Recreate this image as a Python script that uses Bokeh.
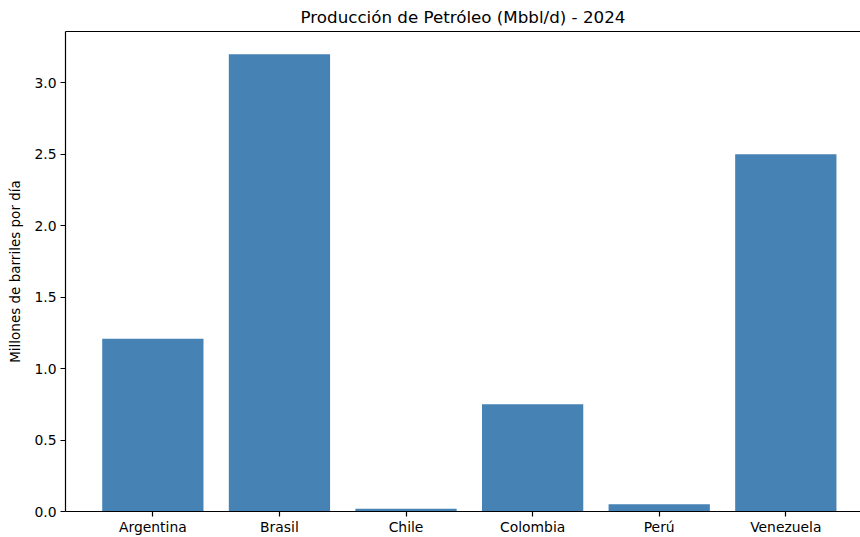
from bokeh.plotting import figure
from bokeh.models import Range1d, FixedTicker, NumeralTickFormatter, LinearAxis
from bokeh.embed import file_html
from bokeh.resources import INLINE

# Data
countries = ["Argentina", "Brasil", "Chile", "Colombia", "Perú", "Venezuela"]
production = [1.21, 3.20, 0.02, 0.75, 0.05, 2.50]
y_ticks = [0.0, 0.5, 1.0, 1.5, 2.0, 2.5, 3.0]

xs = list(range(len(countries)))
FONT = "DejaVu Sans"

p = figure(width=860, height=537, output_backend="svg", toolbar_location=None,
           x_range=Range1d(-0.69, 5.59), y_range=Range1d(0, 3.36),
           min_border_left=65, min_border_right=0, min_border_top=3, min_border_bottom=0,
           title="Producción de Petróleo (Mbbl/d) - 2024")

p.vbar(x=xs, top=production, width=0.8, color="#4682B4", line_color=None)

p.title.align = "center"
p.title.text_font = FONT
p.title.text_font_size = "16.7px"
p.title.text_font_style = "normal"
p.title.text_color = "#000000"
p.title.standoff = 9

p.outline_line_color = None
p.grid.visible = False
p.background_fill_color = "white"
p.border_fill_color = "white"

xa = p.xaxis[0]
xa.ticker = FixedTicker(ticks=xs)
xa.major_label_overrides = {i: c for i, c in zip(xs, countries)}
xa.minor_tick_line_color = None

ya = p.yaxis[0]
ya.ticker = FixedTicker(ticks=y_ticks)
ya.formatter = NumeralTickFormatter(format="0.0")
ya.minor_tick_line_color = None
ya.axis_label = "Millones de barriles por día"

for ax in (xa, ya):
    ax.axis_line_color = "black"
    ax.axis_line_width = 1.2
    ax.major_tick_line_color = "black"
    ax.major_tick_line_width = 1.2
    ax.major_tick_out = 5
    ax.major_tick_in = 0
    ax.major_label_text_font = FONT
    ax.major_label_text_font_size = "13.9px"
    ax.major_label_text_color = "#000000"
    ax.axis_label_text_font = FONT
    ax.axis_label_text_font_size = "13.5px"
    ax.axis_label_text_font_style = "normal"
    ax.axis_label_text_color = "#000000"
xa.major_label_standoff = 2
ya.major_label_standoff = 4
ya.axis_label_standoff = 8

top = LinearAxis(ticker=FixedTicker(ticks=[]), major_label_text_font_size="0px",
                 axis_line_color="black", axis_line_width=1.2,
                 major_tick_line_color=None, minor_tick_line_color=None)
p.add_layout(top, "above")

open("out.html", "w").write(file_html(p, INLINE))
